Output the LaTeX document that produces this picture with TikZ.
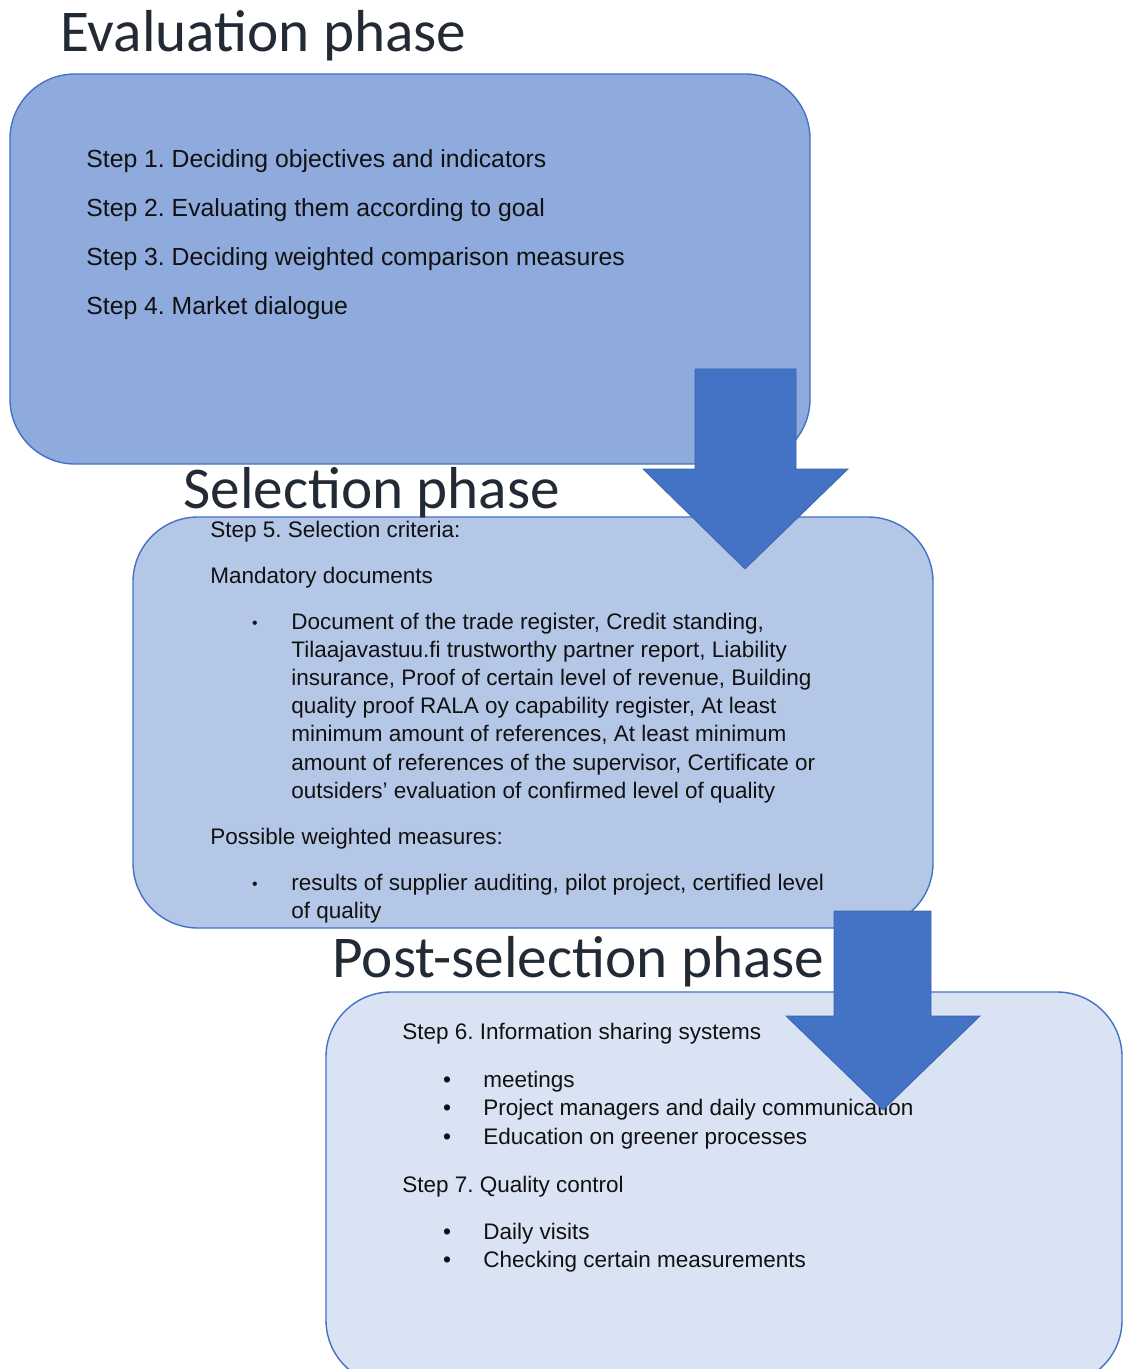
\documentclass[tikz,border=0pt]{standalone}
\usepackage{fontspec}
\setmainfont{Liberation Sans}
\newfontfamily\titlefont{Carlito}
\frenchspacing

\definecolor{evalfill}{HTML}{8FAADC}
\definecolor{selfill}{HTML}{B4C7E7}
\definecolor{postfill}{HTML}{DAE3F3}
\definecolor{edgeblue}{HTML}{4472C4}
\definecolor{arrowblue}{HTML}{4472C4}
\definecolor{arrowedge}{HTML}{3B64AD}
\definecolor{titlegray}{HTML}{222A35}
\definecolor{textblack}{HTML}{111111}

\begin{document}
\begin{tikzpicture}[x=0.2mm, y=-0.2mm,
    phasebox/.style={draw=edgeblue, line width=0.8pt, rounded corners=13mm, inner sep=0pt},
    phasetitle/.style={anchor=base west, inner sep=0pt, text=titlegray,
        font=\titlefont\fontsize{33.7pt}{40pt}\selectfont},
    steptext/.style={anchor=base west, inner sep=0pt, text=textblack,
        font=\fontsize{14.1pt}{17pt}\selectfont},
    bodytext/.style={anchor=base west, inner sep=0pt, text=textblack,
        font=\fontsize{12.8pt}{15pt}\selectfont},
    smallbullet/.style={anchor=base, inner sep=0pt, text=textblack, font=\fontsize{9pt}{10pt}\selectfont},
    bigbullet/.style={anchor=base, inner sep=0pt, text=textblack, font=\fontsize{13pt}{15pt}\selectfont},
    blockarrow/.style={fill=arrowblue, draw=arrowedge, line width=0.4pt}]

    \useasboundingbox (0,0) rectangle (1127,1369);

    % the three phase boxes
    \node[phasebox, fill=evalfill, minimum width=160mm, minimum height=78mm] (evalbox) at (410,269) {};
    \node[phasebox, fill=selfill, minimum width=160mm, minimum height=82.2mm] (selbox) at (533,722.5) {};
    \node[phasebox, fill=postfill, minimum width=159.2mm, minimum height=78.6mm] (postbox) at (724,1188.5) {};

    % titles
    \node[phasetitle] (evaltitle) at (60,52) {Evaluation phase};
    \node[phasetitle] (seltitle) at (183,508) {Selection phase};
    \node[phasetitle] (posttitle) at (332,977) {Post-selection phase};

    % evaluation steps
    \foreach \txt [count=\i] in {Deciding objectives and indicators, Evaluating them according to goal,
        Deciding weighted comparison measures, Market dialogue}
        \node[steptext] (step\i) at (86,{168+49*(\i-1)}) {Step \i. \txt};

    % selection criteria
    \node[bodytext] (criteria) at (210,537) {Step 5. Selection criteria:};
    \node[bodytext] (mandatory) at (210,583) {Mandatory documents};
    \node[smallbullet] (mandbullet) at (255,628) {•};
    \foreach \txt [count=\i from 0] in {{Document of the trade register, Credit standing,},
        {Tilaajavastuu.fi trustworthy partner report, Liability},
        {insurance, Proof of certain level of revenue, Building},
        {quality proof RALA oy capability register, At least},
        {minimum amount of references, At least minimum},
        {amount of references of the supervisor, Certificate or},
        {outsiders’ evaluation of confirmed level of quality}}
        \node[bodytext] (mand\i) at (291,{629+28.2*\i}) {\txt};
    \node[bodytext] (possible) at (210,844) {Possible weighted measures:};
    \node[smallbullet] (possbullet) at (255,889) {•};
    \node[bodytext] (poss0) at (291,890) {results of supplier auditing, pilot project, certified level};
    \node[bodytext] (poss1) at (291,918) {of quality};

    % post-selection
    \node[bodytext] (sharing) at (402,1039) {Step 6. Information sharing systems};
    \foreach \txt [count=\i from 0] in {meetings, Project managers and daily communication,
        Education on greener processes}
    {
        \node[bigbullet] (sharebullet\i) at (447,{1087+28.5*\i}) {•};
        \node[bodytext] (share\i) at (483,{1087+28.5*\i}) {\txt};
    }
    \node[bodytext] (quality) at (402,1192) {Step 7. Quality control};
    \foreach \txt [count=\i from 0] in {Daily visits, Checking certain measurements}
    {
        \node[bigbullet] (qualbullet\i) at (447,{1239+28.5*\i}) {•};
        \node[bodytext] (qual\i) at (483,{1239+28.5*\i}) {\txt};
    }

    % block arrows
    \draw[blockarrow] (695,369) -- (796,369) -- (796,469) -- (848,469) -- (745,569)
        -- (643,469) -- (695,469) -- cycle;
    \draw[blockarrow] (834,911) -- (931,911) -- (931,1016) -- (980,1016) -- (883,1110)
        -- (786,1016) -- (834,1016) -- cycle;
\end{tikzpicture}
\end{document}
